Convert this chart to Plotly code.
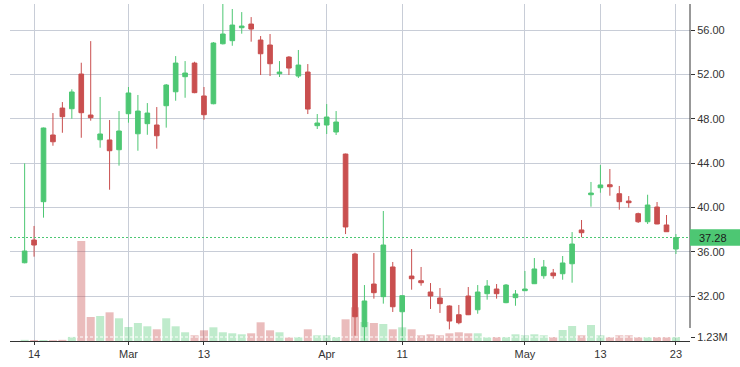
import plotly.graph_objects as go

dates = [
    "2019-02-13", "2019-02-14", "2019-02-15", "2019-02-19", "2019-02-20", "2019-02-21", "2019-02-22",
    "2019-02-25", "2019-02-26", "2019-02-27", "2019-02-28",
    "2019-03-01", "2019-03-04", "2019-03-05", "2019-03-06", "2019-03-07", "2019-03-08",
    "2019-03-11", "2019-03-12", "2019-03-13", "2019-03-14", "2019-03-15",
    "2019-03-18", "2019-03-19", "2019-03-20", "2019-03-21", "2019-03-22",
    "2019-03-25", "2019-03-26", "2019-03-27", "2019-03-28", "2019-03-29",
    "2019-04-01", "2019-04-02", "2019-04-03", "2019-04-04", "2019-04-05",
    "2019-04-08", "2019-04-09", "2019-04-10", "2019-04-11", "2019-04-12",
    "2019-04-15", "2019-04-16", "2019-04-17", "2019-04-18",
    "2019-04-22", "2019-04-23", "2019-04-24", "2019-04-25", "2019-04-26",
    "2019-04-29", "2019-04-30",
    "2019-05-01", "2019-05-02", "2019-05-03",
    "2019-05-06", "2019-05-07", "2019-05-08", "2019-05-09", "2019-05-10",
    "2019-05-13", "2019-05-14", "2019-05-15", "2019-05-16", "2019-05-17",
    "2019-05-20", "2019-05-21", "2019-05-22", "2019-05-23",
]

opens = [35.0, 37.05, 40.51, 46.53, 48.96, 48.9, 52.03, 48.33, 46.1, 46.08, 45.2,
         48.45, 46.64, 47.55, 47.43, 49.17, 50.43, 51.79, 53.02, 50.05, 49.35, 54.76,
         55.04, 56.21, 56.54, 55.1, 54.65, 52.06, 53.56, 51.85, 52.21, 47.37,
         47.43, 46.8, 44.81, 35.79, 29.23, 33.08, 31.94, 34.62, 30.58, 33.8,
         33.38, 32.36, 31.82, 31.1, 30.31, 32.0, 30.76, 32.21, 32.63, 31.4, 31.85,
         32.48, 33.11, 33.83, 34.08, 34.01, 34.91, 37.96, 41.14,
         41.77, 42.04, 41.23, 40.57, 39.43, 38.7, 40.03, 38.41, 36.24]
highs = [43.97, 38.32, 47.2, 48.51, 49.5, 50.65, 53.05, 55.0, 49.96, 47.88, 48.69,
         50.86, 50.14, 49.41, 49.05, 51.13, 53.65, 53.2, 53.14, 50.86, 54.92, 58.6,
         57.9, 57.62, 57.17, 55.46, 55.64, 53.2, 53.65, 54.2, 52.93, 48.42,
         49.32, 48.69, 44.85, 35.91, 32.99, 35.88, 39.67, 35.07, 32.05, 36.24,
         34.62, 33.17, 32.72, 31.15, 31.19, 32.81, 32.99, 33.44, 33.08, 33.08, 32.54,
         34.26, 35.43, 35.25, 34.44, 35.61, 37.77, 38.86, 42.29,
         43.82, 43.46, 41.93, 41.02, 39.52, 41.14, 40.48, 39.31, 37.59]
lows = [34.95, 35.55, 39.07, 45.56, 46.73, 48.0, 46.28, 47.82, 45.38, 41.59, 43.76,
        47.64, 45.11, 46.55, 45.29, 47.19, 49.62, 49.89, 50.3, 47.91, 49.3, 54.7,
        54.58, 55.67, 54.95, 51.94, 51.85, 51.76, 51.94, 51.67, 48.42, 47.07,
        46.62, 46.53, 37.59, 28.42, 27.97, 31.76, 31.31, 30.56, 28.0, 32.57,
        32.93, 30.83, 30.47, 28.99, 29.45, 30.28, 30.4, 31.67, 31.76, 31.35, 31.12,
        32.45, 33.08, 33.56, 33.56, 33.47, 33.2, 37.3, 40.06,
        41.32, 41.05, 39.79, 39.97, 38.59, 38.5, 38.48, 37.78, 35.79]
closes = [36.06, 36.6, 47.16, 45.92, 48.18, 50.41, 48.54, 48.09, 46.62, 45.11, 46.89,
          50.32, 48.69, 48.51, 46.46, 51.04, 53.02, 52.12, 50.35, 48.36, 54.83, 55.64,
          56.45, 56.36, 56.09, 53.86, 52.96, 52.21, 52.57, 52.84, 48.87, 47.61,
          48.15, 47.7, 38.23, 30.13, 31.55, 32.3, 36.6, 31.03, 32.03, 33.56,
          33.2, 32.0, 31.31, 29.74, 29.59, 30.31, 32.36, 32.9, 32.21, 32.99, 32.18,
          32.63, 34.44, 34.62, 33.83, 34.98, 36.69, 37.71, 41.29,
          42.02, 41.86, 40.51, 40.42, 38.7, 40.21, 38.5, 37.8, 37.28]
volumes_m = [0.35, 0.3, 0.3, 0.25, 0.35, 1.25, 30.75, 7.38, 7.69, 8.82, 6.98,
             4.31, 5.54, 4.52, 3.6, 6.98, 4.52, 2.68, 1.75, 3.29, 4.21, 2.68,
             2.37, 2.06, 2.37, 5.75, 3.29, 2.68, 1.14, 1.23, 3.6, 1.75,
             1.75, 1.23, 6.67, 10.36, 5.84, 5.54, 5.23, 3.6, 4.21, 3.6,
             1.75, 2.06, 1.75, 2.37, 2.68, 2.37, 2.37, 1.14, 1.23, 1.23, 2.06,
             1.75, 2.06, 1.75, 1.23, 3.38, 4.61, 1.75, 4.92,
             1.75, 1.2, 1.75, 1.75, 1.2, 1.2, 1.2, 1.2, 1.23]

tick_dates = ["2019-02-14", "2019-03-01", "2019-03-13", "2019-04-01",
              "2019-04-11", "2019-05-01", "2019-05-13", "2019-05-23"]
tick_labels = ["14", "Mar", "13", "Apr", "11", "May", "13", "23"]
price_ticks = [32, 36, 40, 44, 48, 52, 56]

last_close = closes[-1]
last_volume = volumes_m[-1]

UP = "#4dc773"
DOWN = "#c94f4f"
UP_VOL = "rgba(77,199,115,0.36)"
DOWN_VOL = "rgba(201,79,79,0.38)"
GRID = "#c8cdd7"
AXIS = "#333333"
FONT = dict(family="Liberation Sans, Arial, sans-serif", size=11, color="#333333")

vol_colors = [UP_VOL if c >= o else DOWN_VOL for o, c in zip(opens, closes)]

fig = go.Figure()
fig.add_trace(go.Bar(
    x=dates, y=volumes_m, yaxis="y",
    marker=dict(color=vol_colors, line=dict(width=0)),
    hoverinfo="skip", showlegend=False,
))
fig.add_trace(go.Candlestick(
    x=dates, open=opens, high=highs, low=lows, close=closes, yaxis="y2",
    increasing=dict(line=dict(color=UP, width=1), fillcolor=UP),
    decreasing=dict(line=dict(color=DOWN, width=1), fillcolor=DOWN),
    whiskerwidth=0, showlegend=False,
))

fig.update_layout(
    width=740, height=367,
    margin=dict(l=10, r=50, t=4, b=26),
    paper_bgcolor="white", plot_bgcolor="white",
    font=FONT,
    bargap=0.15,
    showlegend=False,
    xaxis=dict(
        type="category",
        range=[-1.55, 70.49],
        tickmode="array", tickvals=tick_dates, ticktext=tick_labels,
        showgrid=True, gridcolor=GRID, gridwidth=1,
        ticks="outside", ticklen=3, tickcolor=AXIS,
        showline=True, linecolor=AXIS, linewidth=1,
        rangeslider=dict(visible=False),
        tickfont=FONT,
        fixedrange=True,
    ),
    yaxis=dict(
        side="right",
        range=[0, 103.6],
        tickmode="array", tickvals=[last_volume], ticktext=[f"{last_volume:.2f}M"],
        showgrid=False, zeroline=False, showline=False,
        ticks="outside", ticklen=4, tickcolor=AXIS,
        tickfont=FONT,
    ),
    yaxis2=dict(
        overlaying="y", side="right",
        range=[27.94, 58.35],
        tickmode="array", tickvals=price_ticks,
        ticktext=[f"{v:.2f}" for v in price_ticks],
        showgrid=True, gridcolor=GRID, gridwidth=1,
        zeroline=False, showline=False,
        ticks="outside", ticklen=4, tickcolor=AXIS,
        tickfont=FONT,
    ),
    shapes=[
        dict(type="line", xref="paper", yref="paper", x0=1, x1=1, y0=0.0386, y1=1,
             line=dict(color=AXIS, width=1)),
        dict(type="line", xref="paper", yref="y", x0=0, x1=1, y0=last_volume, y1=last_volume,
             line=dict(color="white", width=1, dash="3px,2px"), layer="above"),
        dict(type="line", xref="paper", yref="y2", x0=0, x1=1, y0=last_close, y1=last_close,
             line=dict(color=UP, width=1, dash="2px,2px"), layer="above"),
        dict(type="rect", xref="paper", yref="y2", x0=1, x1=1.08,
             y0=last_close - 0.74, y1=last_close + 0.74,
             fillcolor=UP, line=dict(width=0), layer="above"),
    ],
    annotations=[
        dict(xref="paper", yref="y2", x=1, y=last_close, xanchor="left", yanchor="middle",
             xshift=7, text=f"{last_close:.2f}", showarrow=False,
             font=dict(family=FONT["family"], size=11, color="#1a1a1a")),
    ],
)

fig.write_html(
    "out.html",
    config={"displayModeBar": False},
    post_script="document.body.style.margin='0';document.body.style.overflow='hidden';",
)
